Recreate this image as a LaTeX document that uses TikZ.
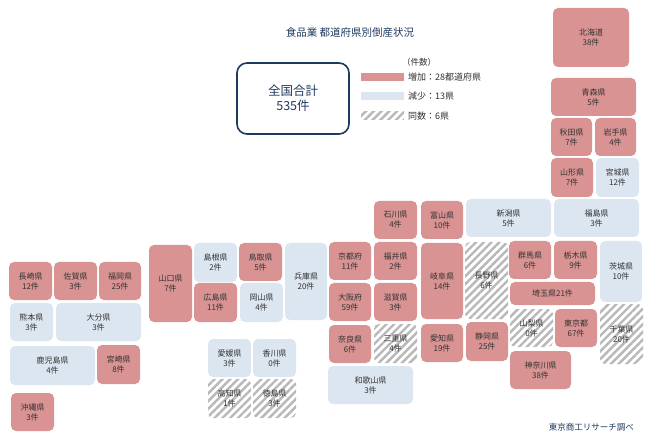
\documentclass[tikz,border=0pt]{standalone}
\usepackage{fontspec}
\setmainfont{Noto Sans CJK JP}
\usetikzlibrary{patterns.meta}
\definecolor{rd}{HTML}{D99393}
\definecolor{bl}{HTML}{DCE6F1}
\definecolor{nv}{HTML}{1F3A5F}
\definecolor{tx}{HTML}{333333}
\tikzset{
 inc/.style={fill=rd},
 dec/.style={fill=bl},
 same/.style={fill=white,pattern={Lines[angle=45,distance=5.5pt,line width=2.4pt]},pattern color=black!28},
 lab/.style={font=\fontsize{8}{10}\selectfont,text=tx,align=center,inner sep=0pt}
}
\newcommand\pf[7]{\path[#6,rounded corners=5pt] (#2,#3) rectangle (#4,#5) node[midway,lab] (#1) {#7};}
\begin{document}
\begin{tikzpicture}[x=1pt,y=-1pt]
\useasboundingbox[fill=white] (0,0) rectangle (653,446);
\node[text=nv,font=\fontsize{10.5}{12}\selectfont] (title) at (350,33) {食品業 都道府県別倒産状況};
\draw[nv,line width=1.6pt,rounded corners=10pt,fill=white] (237,63) rectangle (349,134) node[midway,align=center,font=\fontsize{12.5}{15}\selectfont] (total) {全国合計\\535件};
\node[text=tx,font=\fontsize{8.5}{10}\selectfont] (unit) at (419,62) {（件数）};
\fill[rd] (361,73) rectangle (404,81);
\fill[bl] (361,92) rectangle (404,100);
\path[same] (361,112) rectangle (404,120);
\node[anchor=west,text=tx,font=\fontsize{9}{10}\selectfont,inner sep=0pt] (l1) at (408,77) {増加：28都道府県};
\node[anchor=west,text=tx,font=\fontsize{9}{10}\selectfont,inner sep=0pt] (l2) at (408,96) {減少：13県};
\node[anchor=west,text=tx,font=\fontsize{9}{10}\selectfont,inner sep=0pt] (l3) at (408,116) {同数：6県};
\pf{hok}{553}{8}{629}{67}{inc}{北海道\\38件}
\pf{aom}{551}{78}{636}{116}{inc}{青森県\\5件}
\pf{aki}{551}{118}{592}{156}{inc}{秋田県\\7件}
\pf{iwa}{595}{118}{636}{156}{inc}{岩手県\\4件}
\pf{yag}{551}{158}{593}{197}{inc}{山形県\\7件}
\pf{miy}{596}{158}{639}{197}{dec}{宮城県\\12件}
\pf{ish}{374}{201}{417}{239}{inc}{石川県\\4件}
\pf{toy}{421}{201}{463}{239}{inc}{富山県\\10件}
\pf{nii}{466}{199}{551}{237}{dec}{新潟県\\5件}
\pf{fks}{554}{199}{639}{237}{dec}{福島県\\3件}
\pf{kyo}{329}{242}{371}{280}{inc}{京都府\\11件}
\pf{fki}{374}{242}{417}{280}{inc}{福井県\\2件}
\pf{gif}{421}{243}{463}{319}{inc}{岐阜県\\14件}
\pf{nag}{465}{242}{508}{319}{same}{長野県\\6件}
\pf{gun}{509}{241}{551}{279}{inc}{群馬県\\6件}
\pf{toc}{554}{241}{597}{279}{inc}{栃木県\\9件}
\pf{iba}{600}{241}{642}{302}{dec}{茨城県\\10件}
\pf{sai}{510}{282}{595}{305}{inc}{埼玉県21件}
\pf{osa}{329}{283}{371}{321}{inc}{大阪府\\59件}
\pf{shi}{374}{283}{417}{321}{inc}{滋賀県\\3件}
\pf{yan}{510}{309}{553}{347}{same}{山梨県\\0件}
\pf{tok}{555}{309}{597}{347}{inc}{東京都\\67件}
\pf{chi}{600}{304}{643}{364}{same}{千葉県\\20件}
\pf{nar}{329}{325}{371}{363}{inc}{奈良県\\6件}
\pf{mie}{374}{324}{417}{363}{same}{三重県\\4件}
\pf{aic}{421}{324}{463}{362}{inc}{愛知県\\19件}
\pf{szo}{466}{322}{508}{361}{inc}{静岡県\\25件}
\pf{kan}{510}{351}{571}{389}{inc}{神奈川県\\38件}
\pf{wak}{328}{366}{413}{404}{dec}{和歌山県\\3件}
\pf{nas}{9}{262}{52}{300}{inc}{長崎県\\12件}
\pf{sag}{54}{262}{97}{300}{inc}{佐賀県\\3件}
\pf{fuo}{99}{262}{141}{300}{inc}{福岡県\\25件}
\pf{kum}{10}{303}{53}{341}{dec}{熊本県\\3件}
\pf{oit}{56}{303}{141}{341}{dec}{大分県\\3件}
\pf{kag}{10}{346}{95}{385}{dec}{鹿児島県\\4件}
\pf{myz}{97}{345}{140}{384}{inc}{宮崎県\\8件}
\pf{oki}{11}{393}{54}{431}{inc}{沖縄県\\3件}
\pf{yam}{149}{245}{192}{322}{inc}{山口県\\7件}
\pf{shm}{194}{243}{237}{282}{dec}{島根県\\2件}
\pf{tot}{239}{243}{282}{281}{inc}{鳥取県\\5件}
\pf{hir}{194}{283}{237}{322}{inc}{広島県\\11件}
\pf{oka}{240}{283}{283}{322}{dec}{岡山県\\4件}
\pf{hyo}{285}{243}{327}{320}{dec}{兵庫県\\20件}
\pf{ehi}{208}{339}{251}{377}{dec}{愛媛県\\3件}
\pf{kgw}{253}{339}{296}{377}{dec}{香川県\\0件}
\pf{koc}{208}{379}{251}{418}{same}{高知県\\1件}
\pf{tks}{253}{379}{296}{418}{same}{徳島県\\3件}
\node[anchor=east,text=nv,font=\fontsize{8.5}{10}\selectfont,inner sep=0pt] (src) at (634,427) {東京商工リサーチ調べ};
\end{tikzpicture}
\end{document}
